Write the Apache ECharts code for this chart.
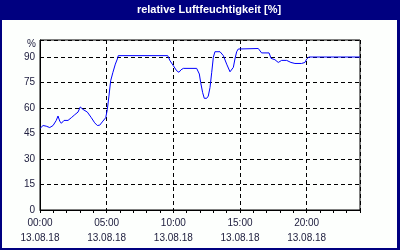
<!DOCTYPE html>
<html><head><meta charset="utf-8">
<script src="https://cdn.jsdelivr.net/npm/echarts@6/dist/echarts.min.js"></script>
<style>html,body{margin:0;padding:0;background:#000080}#c{width:400px;height:250px}</style>
</head><body><div id="c"></div>
<script>
var titleText = 'relative Luftfeuchtigkeit [%]';
var dateLabel = '13.08.18';
var hours = [0, 0.23, 0.47, 0.73, 0.98, 1.22, 1.35, 1.48, 1.6, 1.8, 2.1, 2.35, 2.6, 2.85, 3.02, 3.22, 3.55, 3.85, 4.1, 4.3, 4.48, 4.72, 4.93, 5.05, 5.17, 5.3, 5.47, 5.65, 5.8, 5.87, 9.58, 9.75, 10.0, 10.25, 10.42, 10.58, 10.75, 11.75, 11.95, 12.05, 12.2, 12.32, 12.5, 12.62, 12.75, 12.88, 13.0, 13.12, 13.5, 13.75, 14.0, 14.25, 14.38, 14.5, 14.62, 14.75, 14.87, 16.37, 16.62, 17.18, 17.33, 17.62, 17.87, 18.12, 18.5, 18.82, 19.12, 19.62, 19.87, 20.0, 20.17, 24];
var humidity = [48, 49.7, 49.3, 48.5, 49.7, 52.7, 55.3, 52.3, 51, 52.7, 52.7, 54.3, 56, 57.6, 60.6, 59.2, 57.6, 54.3, 51.3, 49.7, 49.9, 52.3, 54.3, 59.2, 67, 76, 81, 85.8, 88.8, 90.8, 90.8, 87.8, 84.9, 81.9, 81, 82.5, 83.3, 83.3, 80, 75, 69, 65.7, 65.7, 67, 72, 81, 89.8, 93.1, 93.1, 90.8, 85.8, 81.3, 81, 83.9, 88.8, 93.1, 94.7, 95, 92.4, 92.4, 89.2, 88.4, 86.8, 88, 88, 86.8, 86.2, 86.2, 86.8, 88.8, 90, 90];
var yTicks = [0, 15, 30, 45, 60, 75, 90];
var xLabelHours = [0, 5, 10, 15, 20];

var chart = echarts.init(document.getElementById('c'), null, {renderer: 'canvas'});
var txt = '#202040';
var font = 'Liberation Sans';
var data = hours.map(function (h, i) { return [h, humidity[i]]; });
chart.setOption({
  backgroundColor: '#000080',
  animation: false,
  graphic: [
    {type: 'rect', z: -10, shape: {x: 2, y: 20, width: 395, height: 228}, style: {fill: '#fdfffd'}},
    {type: 'text', z: 10, x: 209, y: 10, style: {text: titleText, fill: '#ffffff', font: 'bold 11px "Liberation Sans"', align: 'center', verticalAlign: 'middle'}},
    {type: 'text', z: 10, x: 36, y: 44, style: {text: '%', fill: txt, font: '10px "Liberation Sans"', align: 'right', verticalAlign: 'middle'}}
  ],
  grid: {left: 40, right: 40, top: 40, bottom: 40, show: true, borderColor: '#000', borderWidth: 1, backgroundColor: 'transparent'},
  xAxis: [
    {type: 'value', min: 0, max: 24, interval: 1, position: 'bottom',
     axisLine: {show: true, lineStyle: {color: '#000', width: 1}},
     axisTick: {show: true, length: 3, lineStyle: {color: '#000'}},
     axisLabel: {show: false}, splitLine: {show: false}},
    {type: 'value', min: 0, max: 24, interval: 5, position: 'bottom', offset: 0,
     axisLine: {show: false}, axisTick: {show: false},
     axisLabel: {show: true, margin: 6, color: txt, fontFamily: font, fontSize: 10, lineHeight: 15,
       formatter: function (v) {
         if (xLabelHours.indexOf(v) < 0) return '';
         return (v < 10 ? '0' + v : '' + v) + ':00\n' + dateLabel;
       }},
     splitLine: {show: true, lineStyle: {color: '#000', type: [4, 3], width: 1}}}
  ],
  yAxis: {type: 'value', min: 0, max: 100, interval: 15,
    axisLine: {show: true, lineStyle: {color: '#000'}},
    axisTick: {show: false},
    axisLabel: {margin: 5, color: txt, fontFamily: font, fontSize: 10,
      formatter: function (v) { return yTicks.indexOf(v) >= 0 ? '' + v : ''; }},
    splitLine: {show: true, lineStyle: {color: '#000', type: [4, 3], width: 1}}},
  series: [{
    type: 'line', xAxisIndex: 0, data: data, symbol: 'none', smooth: false,
    lineStyle: {color: '#0000ff', width: 1}
  }]
});
</script></body></html>
